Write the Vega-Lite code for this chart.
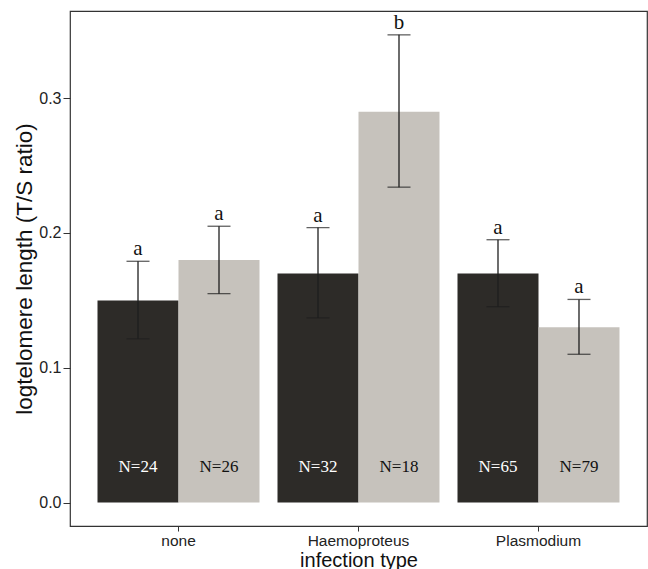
{
  "$schema": "https://vega.github.io/schema/vega-lite/v6.json",
  "autosize": "none",
  "width": 577,
  "height": 515,
  "padding": {"left": 70, "top": 11, "right": 1, "bottom": 43},
  "background": "white",
  "config": {
    "view": {"stroke": "#333333", "strokeWidth": 1.2},
    "axis": {"grid": false, "domain": false, "tickColor": "#333333", "labelColor": "#222222", "titleColor": "#111111", "labelFont": "Liberation Sans", "titleFont": "Liberation Sans", "titleFontWeight": "normal"}
  },
  "data": {
    "values": [
      {"infection": "none", "group": "A", "mean": 0.15, "lo": 0.1215, "hi": 0.179, "n": "N=24", "letter": "a"},
      {"infection": "none", "group": "B", "mean": 0.18, "lo": 0.155, "hi": 0.205, "n": "N=26", "letter": "a"},
      {"infection": "Haemoproteus", "group": "A", "mean": 0.17, "lo": 0.137, "hi": 0.204, "n": "N=32", "letter": "a"},
      {"infection": "Haemoproteus", "group": "B", "mean": 0.29, "lo": 0.234, "hi": 0.347, "n": "N=18", "letter": "b"},
      {"infection": "Plasmodium", "group": "A", "mean": 0.17, "lo": 0.1453, "hi": 0.195, "n": "N=65", "letter": "a"},
      {"infection": "Plasmodium", "group": "B", "mean": 0.13, "lo": 0.11, "hi": 0.1507, "n": "N=79", "letter": "a"}
    ]
  },
  "encoding": {
    "x": {
      "field": "infection", "type": "nominal", "sort": ["none", "Haemoproteus", "Plasmodium"],
      "scale": {"paddingInner": 0.1, "paddingOuter": 0.1528},
      "axis": {"title": "infection type", "labelAngle": 0, "labelFontSize": 15.5, "titleFontSize": 20, "tickSize": 5, "labelPadding": 2, "titleBaseline": "alphabetic", "titleY": 40}
    },
    "xOffset": {"field": "group", "type": "nominal", "scale": {"paddingInner": 0, "paddingOuter": 0}}
  },
  "layer": [
    {
      "mark": {"type": "bar"},
      "encoding": {
        "y": {
          "field": "mean", "type": "quantitative",
          "scale": {"domain": [-0.0174, 0.3647], "nice": false, "zero": false},
          "axis": {"title": "logtelomere length (T/S ratio)", "values": [0, 0.1, 0.2, 0.3], "format": ".1f", "labelFontSize": 16, "titleFontSize": 22.5, "tickSize": 7, "labelPadding": 2, "titlePadding": 2}
        },
        "y2": {"datum": 0},
        "color": {"field": "group", "type": "nominal", "scale": {"domain": ["A", "B"], "range": ["#2d2b28", "#c6c2bc"]}, "legend": null}
      }
    },
    {
      "mark": {"type": "rule", "color": "#1e1e1e", "strokeWidth": 1.3},
      "encoding": {"y": {"field": "lo", "type": "quantitative"}, "y2": {"field": "hi"}}
    },
    {
      "mark": {"type": "tick", "color": "#1e1e1e", "thickness": 1.3, "size": 23},
      "encoding": {"y": {"field": "lo", "type": "quantitative"}}
    },
    {
      "mark": {"type": "tick", "color": "#1e1e1e", "thickness": 1.3, "size": 23},
      "encoding": {"y": {"field": "hi", "type": "quantitative"}}
    },
    {
      "mark": {"type": "text", "font": "Liberation Serif", "fontSize": 21, "baseline": "alphabetic", "dy": -6, "color": "#111111"},
      "encoding": {"y": {"field": "hi", "type": "quantitative"}, "text": {"field": "letter"}}
    },
    {
      "mark": {"type": "text", "font": "Liberation Serif", "fontSize": 17, "baseline": "alphabetic", "dy": -31},
      "encoding": {
        "y": {"datum": 0, "type": "quantitative"},
        "text": {"field": "n"},
        "color": {"field": "group", "type": "nominal", "scale": {"domain": ["A", "B"], "range": ["#ffffff", "#111111"]}, "legend": null}
      }
    }
  ],
  "resolve": {"scale": {"color": "independent"}}
}
